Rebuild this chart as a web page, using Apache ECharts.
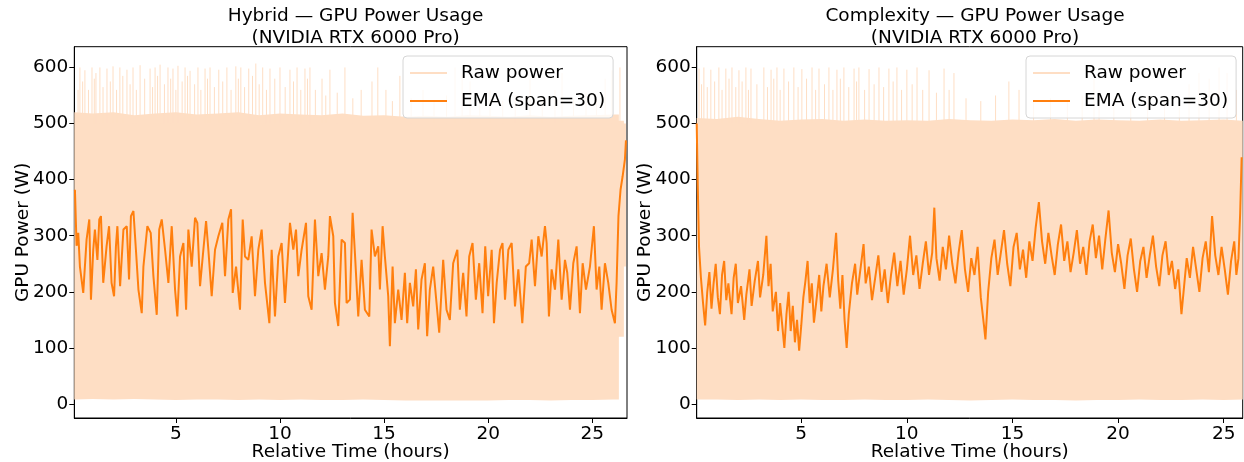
<!DOCTYPE html>
<html>
<head>
<meta charset="utf-8">
<script src="https://cdn.jsdelivr.net/npm/echarts@6/dist/echarts.min.js"></script>
<style>
html,body{margin:0;padding:0;background:#fff;}
#chart{width:1244px;height:462px;}
</style>
</head>
<body>
<div id="chart"></div>
<script>
// ---------- DATA ----------
const yTicks = [0, 100, 200, 300, 400, 500, 600];
const xTicks = [5, 10, 15, 20, 25];

// Raw power envelope (hours, low W, high W)
const rawHybridT    = [0.12, 1, 2, 3, 4, 5, 6, 7, 8, 9, 10, 11, 12, 13, 14, 15, 16, 17, 18, 19, 20, 21, 22, 23, 24, 25, 26, 26.28, 26.28, 26.52, 26.52, 26.62];
const rawHybridLow  = [8, 9, 8, 9, 8, 7, 8, 8, 7, 8, 7, 8, 7, 7, 8, 7, 6, 6, 6, 6, 6, 7, 7, 6, 7, 7, 8, 8, 120, 120, 245, 245];
const rawHybridHigh = [520, 518, 520, 515, 518, 520, 516, 518, 520, 515, 518, 516, 515, 518, 514, 515, 512, 514, 512, 515, 514, 512, 515, 512, 514, 515, 516, 516, 505, 505, 500, 500];
const spikesHybrid = [[0.30,560],[0.39,600],[0.52,575],[0.63,595],[0.80,560],[0.97,600],[1.08,580],[1.16,590],[1.35,600],[1.50,565],[1.69,598],[1.85,575],[1.98,602],[2.15,560],[2.31,600],[2.45,585],[2.65,596],[2.80,570],[2.94,600],[3.10,560],[3.28,604],[3.50,580],[3.76,598],[3.88,565],[4.00,600],[4.12,585],[4.24,605],[4.45,570],[4.62,600],[4.75,580],[4.86,598],[5.00,560],[5.10,603],[5.30,575],[5.44,600],[5.56,585],[5.68,594],[5.90,570],[6.06,600],[6.20,560],[6.40,598],[6.52,580],[6.64,600],[6.85,565],[7.06,596],[7.25,575],[7.45,600],[7.65,560],[7.88,602],[8.00,580],[8.12,600],[8.30,565],[8.50,598],[8.68,585],[8.84,607],[9.00,570],[9.17,600],[9.35,560],[9.52,598],[9.75,580],[10.00,600],[10.25,565],[10.48,596],[10.65,575],[10.82,600],[11.00,560],[11.20,598],[11.32,580],[11.44,600],[11.70,560],[12.02,580],[12.20,550],[12.40,596],[12.75,555],[13.12,600],[13.50,545],[13.90,560],[14.42,575],[14.70,600],[15.09,560],[15.40,540],[15.76,585],[16.30,545],[16.87,560],[17.40,540],[18.00,550],[18.41,600],[18.75,590],[19.13,575],[19.60,545],[20.09,560],[20.70,540],[21.30,550],[22.01,580],[22.60,545],[23.21,560],[23.55,590],[24.10,545],[24.70,555],[25.20,545],[25.62,580],[25.95,595],[26.33,600]];
const emaHybrid = [[0.15,382],[0.23,282],[0.31,305],[0.39,245],[0.55,198],[0.71,293],[0.84,329],[0.92,186],[1.03,275],[1.11,311],[1.23,257],[1.32,329],[1.40,335],[1.51,216],[1.67,281],[1.79,317],[1.91,216],[2.03,192],[2.12,281],[2.19,317],[2.32,210],[2.48,311],[2.64,317],[2.75,222],[2.84,335],[2.96,344],[3.08,275],[3.20,204],[3.36,162],[3.44,245],[3.63,317],[3.79,305],[3.92,228],[4.08,159],[4.20,311],[4.32,329],[4.48,275],[4.64,216],[4.80,317],[4.96,204],[5.07,156],[5.20,263],[5.36,287],[5.49,168],[5.60,311],[5.76,245],[5.92,332],[6.03,323],[6.16,210],[6.32,275],[6.45,326],[6.56,275],[6.72,192],[6.88,275],[7.04,299],[7.23,323],[7.36,228],[7.52,329],[7.65,347],[7.73,198],[7.89,245],[8.08,168],[8.21,329],[8.32,263],[8.48,257],[8.64,299],[8.80,192],[8.96,275],[9.12,311],[9.28,216],[9.49,144],[9.60,275],[9.76,156],[9.92,263],[10.08,287],[10.24,180],[10.48,323],[10.64,275],[10.77,311],[10.88,228],[11.04,275],[11.25,323],[11.36,192],[11.52,168],[11.68,329],[11.84,228],[12.00,269],[12.16,204],[12.32,263],[12.40,335],[12.56,299],[12.64,180],[12.80,139],[12.96,293],[13.12,287],[13.20,180],[13.36,186],[13.49,341],[13.60,269],[13.76,156],[13.92,257],[14.08,168],[14.29,156],[14.40,311],[14.56,263],[14.72,281],[14.80,204],[14.93,317],[15.04,263],[15.20,192],[15.28,103],[15.41,245],[15.52,144],[15.68,204],[15.84,150],[16.00,234],[16.11,144],[16.24,216],[16.40,174],[16.53,240],[16.64,133],[16.80,222],[16.96,251],[17.07,121],[17.20,204],[17.36,245],[17.52,180],[17.65,127],[17.84,257],[18.00,168],[18.16,150],[18.32,251],[18.52,275],[18.64,168],[18.80,234],[18.96,156],[19.09,263],[19.25,287],[19.41,186],[19.57,251],[19.73,162],[19.86,281],[20.00,192],[20.17,275],[20.28,144],[20.41,216],[20.57,275],[20.69,287],[20.81,186],[20.97,275],[21.13,287],[21.29,174],[21.45,240],[21.64,144],[21.81,245],[21.97,251],[22.09,293],[22.25,210],[22.41,299],[22.57,263],[22.73,317],[22.81,287],[22.92,156],[23.05,240],[23.21,204],[23.37,293],[23.53,186],[23.69,257],[23.80,234],[23.93,168],[24.09,251],[24.25,281],[24.41,162],[24.54,251],[24.70,204],[24.89,245],[25.08,317],[25.21,204],[25.34,245],[25.45,168],[25.61,251],[25.77,216],[25.93,168],[26.09,144],[26.17,216],[26.26,335],[26.36,382],[26.46,406],[26.57,436],[26.62,470]];

const rawComplexT    = [0.05, 1, 2, 3, 4, 5, 6, 7, 8, 9, 10, 11, 12, 13, 14, 15, 16, 17, 18, 19, 20, 21, 22, 23, 24, 25, 25.9];
const rawComplexLow  = [8, 8, 7, 8, 7, 8, 7, 7, 8, 7, 7, 8, 7, 6, 7, 8, 7, 7, 6, 7, 7, 8, 7, 7, 8, 7, 8];
const rawComplexHigh = [510, 508, 512, 508, 505, 507, 508, 505, 507, 505, 506, 505, 508, 506, 505, 507, 506, 508, 505, 507, 506, 505, 507, 505, 506, 507, 505];
const spikesComplex = [[0.16,598],[0.28,570],[0.39,600],[0.55,565],[0.72,596],[0.90,575],[1.10,600],[1.25,560],[1.43,598],[1.58,580],[1.72,600],[1.90,565],[2.05,595],[2.20,575],[2.38,600],[2.50,560],[2.62,598],[2.90,570],[3.23,600],[3.40,565],[3.57,596],[3.70,580],[3.85,600],[4.00,560],[4.18,598],[4.40,575],[4.65,600],[4.85,565],[5.03,597],[5.25,580],[5.51,600],[5.68,560],[5.84,598],[6.10,570],[6.31,600],[6.50,560],[6.69,596],[6.85,580],[7.02,600],[7.25,565],[7.50,598],[7.62,575],[7.73,600],[8.00,560],[8.21,597],[8.45,570],[8.68,600],[8.90,565],[9.15,598],[9.35,575],[9.53,600],[9.75,560],[10.00,596],[10.25,570],[10.48,600],[10.75,560],[11.05,595],[11.40,555],[11.76,598],[12.00,560],[12.23,590],[12.80,545],[13.50,540],[14.20,550],[14.83,575],[15.31,560],[16.00,540],[16.80,545],[17.60,540],[18.30,550],[18.86,580],[19.10,560],[19.80,545],[20.60,540],[21.40,550],[22.20,540],[22.90,545],[23.36,570],[23.83,590],[24.31,580],[24.78,600],[25.16,590],[25.60,560]];
const emaComplex = [[0.05,500],[0.10,390],[0.16,280],[0.25,225],[0.35,180],[0.45,140],[0.55,200],[0.65,235],[0.75,170],[0.85,215],[0.95,250],[1.05,190],[1.15,160],[1.25,230],[1.35,255],[1.45,185],[1.55,215],[1.70,160],[1.80,225],[1.90,250],[2.00,180],[2.15,210],[2.30,150],[2.40,195],[2.55,240],[2.65,175],[2.80,220],[2.95,255],[3.05,190],[3.20,230],[3.35,300],[3.45,210],[3.55,250],[3.65,165],[3.80,200],[3.90,130],[4.00,180],[4.10,140],[4.20,100],[4.30,160],[4.40,200],[4.50,130],[4.60,175],[4.70,110],[4.80,150],[4.90,95],[5.00,140],[5.10,190],[5.20,220],[5.30,255],[5.40,180],[5.50,215],[5.60,145],[5.75,195],[5.85,230],[5.95,165],[6.05,210],[6.20,250],[6.35,190],[6.50,240],[6.65,305],[6.75,220],[6.85,170],[6.95,230],[7.05,150],[7.15,100],[7.25,160],[7.40,215],[7.55,250],[7.65,195],[7.80,240],[7.95,285],[8.05,215],[8.20,245],[8.35,185],[8.50,225],[8.65,265],[8.80,200],[8.95,240],[9.10,180],[9.25,230],[9.40,270],[9.55,210],[9.70,255],[9.85,195],[10.00,240],[10.15,300],[10.30,230],[10.45,265],[10.60,205],[10.75,250],[10.90,290],[11.05,230],[11.20,270],[11.30,350],[11.40,260],[11.55,220],[11.70,280],[11.85,240],[12.00,300],[12.15,250],[12.30,215],[12.45,270],[12.60,310],[12.75,240],[12.90,200],[13.05,260],[13.20,230],[13.35,280],[13.50,190],[13.65,140],[13.72,115],[13.85,200],[14.00,260],[14.15,293],[14.30,230],[14.45,270],[14.60,310],[14.75,250],[14.90,210],[15.05,280],[15.20,305],[15.35,240],[15.50,275],[15.65,225],[15.80,290],[15.95,255],[16.10,315],[16.25,360],[16.40,290],[16.55,250],[16.70,305],[16.85,265],[17.00,230],[17.15,285],[17.30,320],[17.45,255],[17.60,290],[17.75,235],[17.90,270],[18.05,310],[18.20,250],[18.35,280],[18.50,230],[18.65,290],[18.80,320],[18.95,260],[19.10,300],[19.25,240],[19.40,295],[19.55,345],[19.70,270],[19.85,235],[20.00,285],[20.15,250],[20.30,205],[20.45,265],[20.60,295],[20.75,240],[20.90,200],[21.05,255],[21.20,280],[21.35,225],[21.50,265],[21.65,300],[21.80,245],[21.95,210],[22.10,265],[22.25,290],[22.40,230],[22.55,255],[22.70,205],[22.85,240],[23.00,160],[23.10,200],[23.25,260],[23.40,225],[23.55,280],[23.70,240],[23.85,200],[24.00,260],[24.15,290],[24.30,235],[24.45,335],[24.60,265],[24.75,230],[24.90,280],[25.05,240],[25.20,195],[25.35,255],[25.50,290],[25.60,230],[25.70,260],[25.78,340],[25.85,440]];

// ---------- CHART ----------
const FONT = 'DejaVu Sans';
const FS = 18.5;
const RAW_COLOR = '#fedec4';
const EMA_COLOR = '#ff7f0e';

function rows3(t, lo, hi) { return t.map((x, i) => [x, lo[i], hi[i]]); }

function xAxisCfg(idx, min, max) {
  return {
    type: 'value', gridIndex: idx, min: min, max: max,
    axisLine: {show: true, onZero: false, lineStyle: {color: '#000', width: 1}},
    axisTick: {show: true, length: 5, customValues: xTicks, lineStyle: {color: '#000'}},
    axisLabel: {customValues: xTicks, fontSize: FS, color: '#000', fontFamily: FONT, margin: 7},
    splitLine: {show: false},
    name: 'Relative Time (hours)', nameLocation: 'middle', nameGap: 25, nameMoveOverlap: false,
    nameTextStyle: {fontSize: FS, color: '#000', fontFamily: FONT}
  };
}
function yAxisCfg(idx) {
  return {
    type: 'value', gridIndex: idx, min: -25, max: 637,
    axisLine: {show: true, onZero: false, lineStyle: {color: '#000', width: 1}},
    axisTick: {show: true, length: 5, customValues: yTicks, lineStyle: {color: '#000'}},
    axisLabel: {customValues: yTicks, fontSize: FS, color: '#000', fontFamily: FONT, margin: 6},
    splitLine: {show: false},
    name: 'GPU Power (W)', nameLocation: 'middle', nameGap: 42, nameMoveOverlap: false,
    nameTextStyle: {fontSize: FS, color: '#000', fontFamily: FONT}
  };
}
function bandRender(rows) {
  return function (params, api) {
    if (params.dataIndex !== 0) return null;
    const top = rows.map(r => api.coord([r[0], r[2]]));
    const bot = rows.map(r => api.coord([r[0], r[1]])).reverse();
    return {type: 'polygon', shape: {points: top.concat(bot)}, style: {fill: RAW_COLOR, stroke: null}};
  };
}
function spikeRender(params, api) {
  const t = api.value(0), p = api.value(1);
  const a = api.coord([t, 500]);
  const b = api.coord([t, p]);
  return {type: 'line', shape: {x1: a[0], y1: a[1], x2: b[0], y2: b[1]},
          style: {stroke: RAW_COLOR, lineWidth: 1}};
}
function panelSeries(idx, rawT, rawLo, rawHi, spikes, ema) {
  const rows = rows3(rawT, rawLo, rawHi);
  return [
    {type: 'custom', name: 'Raw power', xAxisIndex: idx, yAxisIndex: idx,
     data: rows, encode: {x: 0, y: [1, 2]}, renderItem: bandRender(rows), silent: true, z: 1,
     itemStyle: {color: RAW_COLOR}, clip: true},
    {type: 'custom', name: 'Raw power', xAxisIndex: idx, yAxisIndex: idx,
     data: spikes, encode: {x: 0, y: 1}, renderItem: spikeRender, silent: true, z: 1,
     itemStyle: {color: RAW_COLOR}, clip: true},
    {type: 'line', name: 'EMA (span=30)', xAxisIndex: idx, yAxisIndex: idx,
     data: ema, symbol: 'none', silent: true,
     itemStyle: {color: EMA_COLOR},
     lineStyle: {color: EMA_COLOR, width: 2}, z: 5}
  ];
}
function legendCfg(left) {
  return {
    left: left, top: 56, orient: 'vertical', selectedMode: false,
    data: [
      {name: 'Raw power', icon: 'rect', itemStyle: {color: RAW_COLOR}},
      {name: 'EMA (span=30)', icon: 'rect', itemStyle: {color: EMA_COLOR}}
    ],
    itemWidth: 37, itemHeight: 2, itemGap: 8,
    textStyle: {fontSize: FS, color: '#000', fontFamily: FONT, padding: [0, 0, 0, 9], lineHeight: 20},
    backgroundColor: 'rgba(255,255,255,0.8)', borderColor: '#d6d6d6', borderWidth: 1, borderRadius: 4,
    padding: [7, 8, 7, 7]
  };
}

const chart = echarts.init(document.getElementById('chart'), null, {renderer: 'canvas'});
chart.setOption({
  animation: false,
  backgroundColor: '#fff',
  title: [
    {text: 'Hybrid — GPU Power Usage\n(NVIDIA RTX 6000 Pro)', left: 350.6, top: 0, textAlign: 'center',
     textStyle: {fontSize: FS, fontWeight: 'normal', color: '#000', fontFamily: FONT, lineHeight: 22}},
    {text: 'Complexity — GPU Power Usage\n(NVIDIA RTX 6000 Pro)', left: 970, top: 0, textAlign: 'center',
     textStyle: {fontSize: FS, fontWeight: 'normal', color: '#000', fontFamily: FONT, lineHeight: 22}}
  ],
  grid: [
    {left: 74.3, top: 46.7, width: 552.7, height: 371.3, outerBoundsMode: 'none', containLabel: false,
     show: true, borderColor: '#000', borderWidth: 1, backgroundColor: 'transparent'},
    {left: 696.7, top: 46.7, width: 546, height: 371.3, outerBoundsMode: 'none', containLabel: false,
     show: true, borderColor: '#000', borderWidth: 1, backgroundColor: 'transparent'}
  ],
  xAxis: [xAxisCfg(0, 0.12, 26.67), xAxisCfg(1, 0.05, 25.9)],
  yAxis: [yAxisCfg(0), yAxisCfg(1)],
  legend: [legendCfg(403), legendCfg(1026)],
  series: [].concat(
    panelSeries(0, rawHybridT, rawHybridLow, rawHybridHigh, spikesHybrid, emaHybrid),
    panelSeries(1, rawComplexT, rawComplexLow, rawComplexHigh, spikesComplex, emaComplex)
  )
});
</script>
</body>
</html>
